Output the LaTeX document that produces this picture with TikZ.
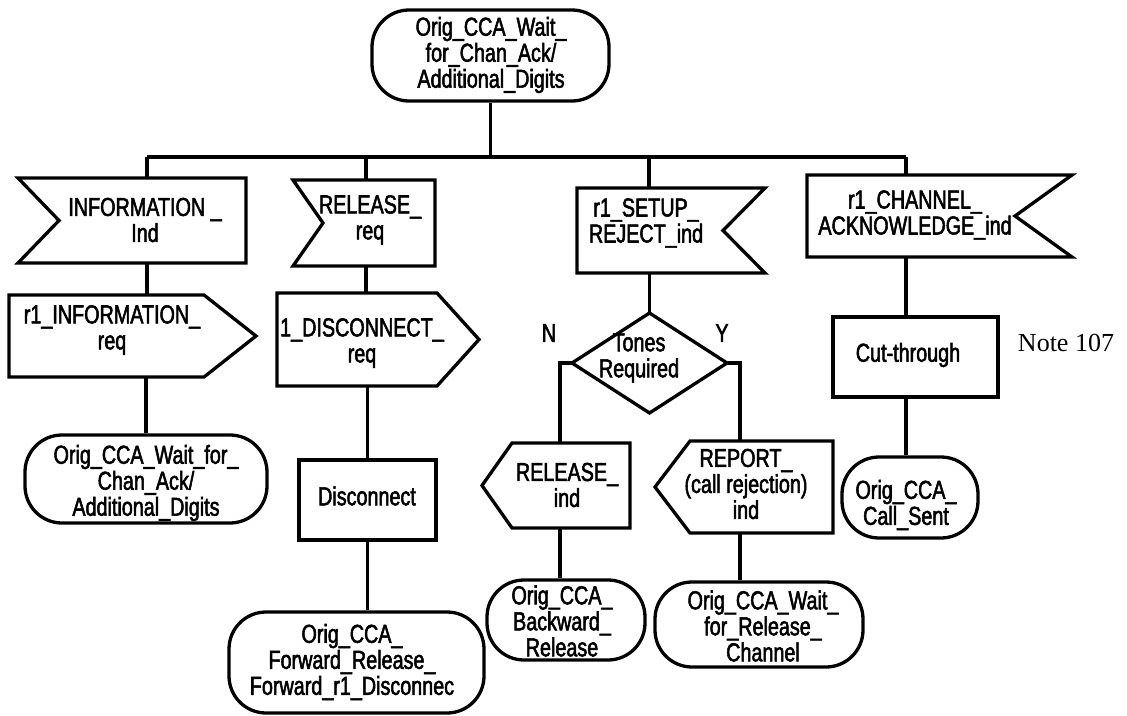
\documentclass[tikz,border=0pt]{standalone}
\usepackage{fontspec}
\newfontfamily\sdlfont{Liberation Sans}[FakeStretch=0.76, FakeBold=2]
\newfontfamily\notefont{Liberation Serif}
\begin{document}
\begin{tikzpicture}[x=1pt,y=-1pt,
  ol/.style={line width=3.3pt, line join=miter},
  ln/.style={line width=3.3pt},
  frame/.style={inner sep=0pt, outer sep=0pt, draw=none},
  stbox/.style={draw, line width=3.3pt, rounded corners=37pt, inner sep=0pt},
  taskbox/.style={draw, line width=3.3pt, inner sep=0pt},
  txt/.style={font=\sdlfont\fontsize{26}{26}\selectfont, align=center, inner sep=0pt},
  sz/.style 2 args={minimum width=#1pt, minimum height=#2pt},
]
\fill[white] (0,0) rectangle (1127,715);
\useasboundingbox (0,0) rectangle (1127,715);

% ---- states ----
\node[stbox, sz={237}{91}] (ts) at (490.5,55.5) {};
\node[stbox, sz={242}{88}] (lstate) at (146,479) {};
\node[stbox, sz={136}{81}] (sent) at (910,497.5) {};
\node[stbox, sz={255}{101}] (fwd) at (356.5,662.5) {};
\node[stbox, sz={158}{80}] (bwd) at (566,620) {};
\node[stbox, sz={208}{85}] (wrc) at (759,624.5) {};

% ---- tasks ----
\node[taskbox, sz={165}{80}] (cut) at (915.5,357) {};
\node[taskbox, sz={137}{80}] (disc) at (367.5,500) {};

% ---- signal frames ----
\node[frame, sz={228}{85}] (info) at (132,220.5) {};
\node[frame, sz={142}{86}] (relreq) at (364,223) {};
\node[frame, sz={188}{85}] (setup) at (671,230.5) {};
\node[frame, sz={265}{82}] (chan) at (939.5,216) {};
\node[frame, sz={247}{82}] (r1info) at (132.5,336) {};
\node[frame, sz={202}{93}] (r1disc) at (378,339.5) {};
\node[frame, sz={148}{85}] (relind) at (556,485.5) {};
\node[frame, sz={178}{92}] (report) at (744,487) {};
\node[frame, sz={155}{100}] (d) at (649.5,363) {};

% input signals, notch on the left
\draw[ol] (info.north west) -- (info.north east) -- (info.south east) -- (info.south west) -- ([xshift=41pt]info.west) -- cycle;
\draw[ol] (relreq.north west) -- (relreq.north east) -- (relreq.south east) -- (relreq.south west) -- ([xshift=30pt]relreq.west) -- cycle;
% input signals, notch on the right
\draw[ol] (setup.north west) -- (setup.north east) -- ([xshift=-42pt]setup.east) -- (setup.south east) -- (setup.south west) -- cycle;
\draw[ol] (chan.north west) -- (chan.north east) -- ([xshift=-57pt]chan.east) -- (chan.south east) -- (chan.south west) -- cycle;
% output signals, pointing right
\draw[ol] (r1info.north west) -- ([xshift=-52pt]r1info.north east) -- (r1info.east) -- ([xshift=-52pt]r1info.south east) -- (r1info.south west) -- cycle;
\draw[ol] (r1disc.north west) -- ([xshift=-42pt]r1disc.north east) -- (r1disc.east) -- ([xshift=-42pt]r1disc.south east) -- (r1disc.south west) -- cycle;
% output signals, pointing left
\draw[ol] (relind.west) -- ([xshift=30pt]relind.north west) -- (relind.north east) -- (relind.south east) -- ([xshift=30pt]relind.south west) -- cycle;
\draw[ol] (report.west) -- ([xshift=35pt]report.north west) -- (report.north east) -- (report.south east) -- ([xshift=35pt]report.south west) -- cycle;
% decision
\draw[ol] (d.north) -- (d.east) -- (d.south) -- (d.west) -- cycle;

% ---- texts ----
\node[txt] (ts-t) at (491,55) {Orig\_CCA\_Wait\_\\for\_Chan\_Ack/\\Additional\_Digits};
\node[txt] (info-t) at (145,220) {INFORMATION \_\\Ind};
\node[txt] (relreq-t) at (370,220) {RELEASE\_\\req};
\node[txt] (setup-t) at (646,223) {r1\_SETUP\_\\REJECT\_ind};
\node[txt] (chan-t) at (915,215) {r1\_CHANNEL\_\\ACKNOWLEDGE\_ind};
\node[txt] (r1info-t) at (112,330) {r1\_INFORMATION\_\\req};
\node[txt] (r1disc-t) at (362,343) {1\_DISCONNECT\_\\req};
\node[txt] (d-t) at (639,358) {Tones\\Required};
\node[txt] (cut-t) at (908,355) {Cut-through};
\node[txt] (lstate-t) at (146,483) {Orig\_CCA\_Wait\_for\_\\Chan\_Ack/\\Additional\_Digits};
\node[txt] (disc-t) at (367,496) {Disconnect};
\node[txt] (relind-t) at (567,485) {RELEASE\_\\ind};
\node[txt] (report-t) at (746,484) {REPORT\_\\(call rejection)\\ind};
\node[txt] (sent-t) at (906,505) {Orig\_CCA\_\\Call\_Sent};
\node[txt] (fwd-t) at (352,662) {Orig\_CCA\_\\Forward\_Release\_\\Forward\_r1\_Disconnec};
\node[txt] (bwd-t) at (562,621) {Orig\_CCA\_\\Backward\_\\Release};
\node[txt] (wrc-t) at (763,626) {Orig\_CCA\_Wait\_\\for\_Release\_\\Channel};
\node[txt] (nlab) at (549,333) {N};
\node[txt] (ylab) at (722,333) {Y};
\node[font=\notefont\fontsize{26}{26}\selectfont, inner sep=0pt] (note) at (1066,343) {Note 107};

% ---- connectors ----
\coordinate (j1) at (147,157);
\coordinate (j2) at (366,157);
\coordinate (j3) at (649,157);
\coordinate (j4) at (906,157);
\coordinate (nl) at (560,363);
\coordinate (yl) at (740,363);

\draw[ln] (ts.south) -- (ts.south |- j1);
\draw[ln] (j1) -- (j4);
\draw[ln] (j1) -- (j1 |- info.north);
\draw[ln] (j2) -- (j2 |- relreq.north);
\draw[ln] (j3) -- (j3 |- setup.north);
\draw[ln] (j4) -- (j4 |- chan.north);
\draw[ln] (j1 |- info.south) -- (j1 |- r1info.north);
\draw[ln] (lstate.north) -- (lstate.north |- r1info.south);
\draw[ln] (j2 |- relreq.south) -- (j2 |- r1disc.north);
\draw[ln] (disc.north) -- (disc.north |- r1disc.south);
\draw[ln] (disc.south) -- (disc.south |- fwd.north);
\draw[ln] (d.north) -- (d.north |- setup.south);
\draw[ln] (d.west) -| (nl |- relind.north);
\draw[ln] (d.east) -| (yl |- report.north);
\draw[ln] (nl |- relind.south) -- (nl |- bwd.north);
\draw[ln] (yl |- report.south) -- (yl |- wrc.north);
\draw[ln] (j4 |- chan.south) -- (j4 |- cut.north);
\draw[ln] (j4 |- cut.south) -- (j4 |- sent.north);
\end{tikzpicture}
\end{document}
